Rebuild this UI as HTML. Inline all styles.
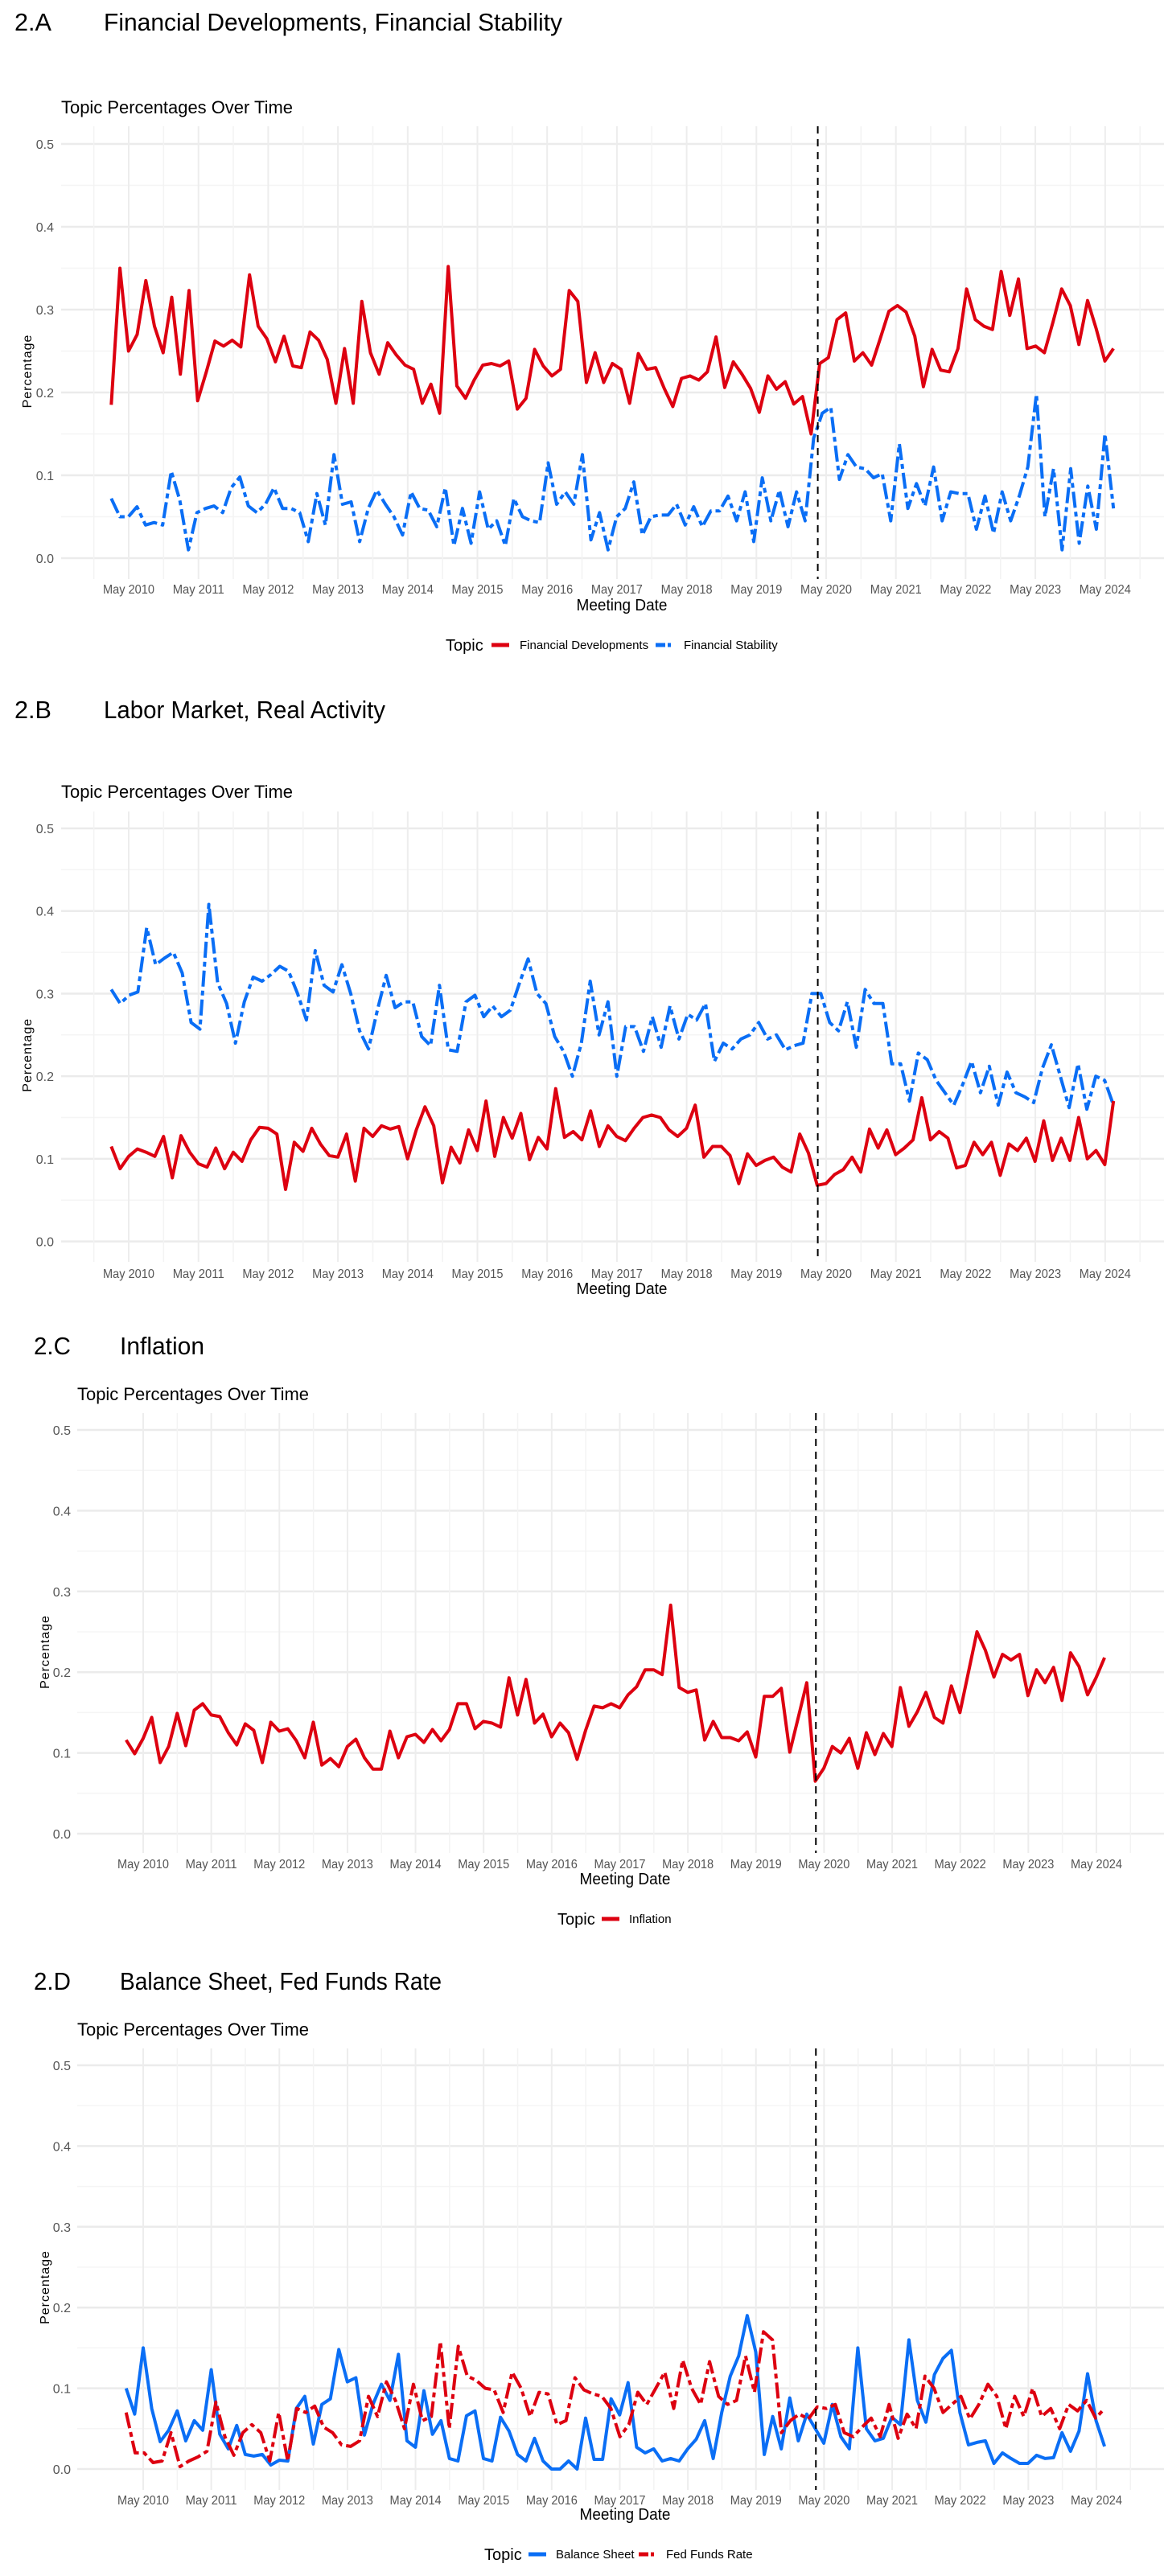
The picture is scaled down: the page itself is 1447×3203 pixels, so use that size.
<!DOCTYPE html>
<html><head><meta charset="utf-8">
<style>
html,body{margin:0;padding:0;background:#fff;}
svg{display:block;font-family:"Liberation Sans Narrow","Liberation Sans",sans-serif;}
</style></head>
<body>
<svg id="root" width="1447" height="3203" viewBox="0 0 1447 3203" xmlns="http://www.w3.org/2000/svg"></svg>
<script>
const yearLabels = ["May 2010","May 2011","May 2012","May 2013","May 2014","May 2015","May 2016","May 2017","May 2018","May 2019","May 2020","May 2021","May 2022","May 2023","May 2024"];
const yTicks = [0,0.1,0.2,0.3,0.4,0.5];
const eventYear = 9.88; // years after May 2010 (March 2020)

const finDev = [.185,.35,.25,.27,.335,.28,.248,.315,.222,.323,.19,.225,.262,.256,.263,.255,.342,.28,.265,.237,.268,.232,.23,.273,.263,.24,.187,.253,.187,.31,.248,.222,.26,.245,.233,.228,.187,.21,.175,.352,.208,.193,.215,.233,.235,.232,.238,.18,.193,.252,.232,.22,.228,.323,.31,.212,.248,.212,.235,.228,.187,.247,.228,.23,.205,.183,.217,.22,.215,.225,.267,.206,.237,.222,.205,.176,.22,.204,.213,.186,.195,.15,.235,.242,.288,.296,.238,.248,.233,.265,.298,.305,.297,.268,.207,.252,.227,.225,.253,.325,.288,.28,.276,.346,.293,.337,.253,.256,.248,.285,.325,.305,.258,.311,.277,.238,.253];
const finStab = [.072,.05,.05,.062,.04,.043,.04,.105,.07,.01,.055,.06,.063,.055,.085,.098,.063,.055,.065,.085,.06,.06,.055,.02,.078,.04,.125,.065,.068,.02,.06,.082,.065,.05,.028,.08,.06,.058,.038,.085,.015,.06,.018,.08,.035,.045,.015,.072,.05,.045,.043,.115,.065,.08,.065,.125,.022,.055,.01,.05,.06,.092,.028,.05,.052,.052,.065,.04,.062,.038,.057,.057,.075,.045,.08,.02,.097,.045,.082,.038,.08,.045,.145,.175,.182,.095,.125,.11,.108,.097,.102,.045,.138,.06,.09,.063,.11,.045,.08,.078,.078,.035,.075,.03,.08,.045,.075,.11,.198,.05,.108,.01,.108,.018,.087,.035,.15,.06];
const labor = [.305,.288,.298,.302,.38,.335,.343,.35,.325,.265,.257,.408,.313,.288,.24,.29,.32,.315,.323,.333,.327,.3,.268,.352,.31,.302,.335,.3,.255,.233,.28,.322,.283,.29,.29,.248,.237,.31,.232,.23,.29,.298,.272,.285,.272,.28,.312,.342,.3,.288,.248,.23,.2,.24,.315,.25,.29,.2,.26,.26,.23,.272,.235,.285,.245,.275,.268,.288,.218,.24,.233,.245,.25,.265,.245,.25,.232,.237,.24,.3,.3,.265,.255,.29,.235,.305,.288,.288,.215,.215,.17,.228,.22,.195,.18,.165,.19,.218,.18,.212,.165,.205,.18,.175,.168,.21,.238,.2,.162,.215,.16,.2,.195,.165];
const realAct = [.115,.088,.103,.112,.108,.103,.127,.077,.128,.108,.094,.09,.113,.088,.108,.097,.123,.138,.137,.13,.063,.12,.109,.137,.118,.104,.102,.13,.073,.137,.127,.14,.136,.139,.1,.135,.163,.14,.071,.114,.095,.135,.11,.17,.103,.15,.125,.155,.099,.126,.112,.185,.126,.133,.123,.158,.115,.14,.127,.122,.137,.15,.153,.15,.135,.127,.137,.165,.102,.115,.115,.104,.07,.106,.092,.098,.102,.09,.084,.13,.107,.068,.07,.081,.087,.102,.084,.136,.113,.135,.105,.113,.123,.174,.123,.133,.125,.089,.092,.12,.105,.12,.08,.118,.11,.125,.097,.146,.098,.125,.098,.15,.1,.11,.093,.17];
const inflation = [.116,.099,.118,.144,.088,.108,.149,.109,.153,.161,.147,.145,.125,.11,.136,.128,.088,.138,.127,.13,.115,.094,.138,.085,.093,.083,.108,.117,.094,.08,.08,.127,.094,.12,.123,.113,.129,.115,.129,.161,.161,.13,.139,.137,.132,.193,.147,.191,.137,.148,.12,.137,.125,.092,.128,.158,.156,.161,.156,.172,.182,.203,.203,.197,.283,.181,.175,.178,.116,.139,.119,.119,.115,.126,.095,.17,.17,.18,.101,.144,.187,.065,.081,.108,.1,.118,.081,.125,.098,.124,.108,.181,.133,.151,.175,.144,.137,.183,.15,.2,.25,.227,.194,.222,.215,.222,.171,.203,.187,.206,.165,.224,.207,.172,.193,.218];
const balSheet = [.1,.068,.15,.075,.034,.048,.072,.035,.06,.048,.123,.043,.025,.054,.018,.016,.018,.005,.011,.01,.075,.09,.031,.08,.087,.148,.108,.113,.042,.08,.105,.085,.142,.035,.027,.097,.043,.06,.013,.01,.066,.072,.013,.01,.064,.047,.018,.01,.038,.01,0,0,.01,0,.063,.012,.012,.087,.067,.107,.027,.02,.025,.01,.013,.01,.025,.037,.06,.013,.07,.115,.14,.19,.145,.018,.065,.025,.088,.035,.068,.05,.032,.08,.04,.025,.15,.05,.035,.038,.064,.055,.16,.085,.058,.117,.137,.147,.07,.03,.033,.035,.007,.02,.013,.007,.007,.017,.013,.014,.045,.022,.047,.118,.06,.028];
const fedFunds = [.07,.02,.02,.008,.01,.045,.003,.01,.015,.022,.083,.04,.017,.045,.055,.045,.01,.07,.01,.075,.07,.078,.052,.045,.03,.028,.035,.09,.065,.108,.085,.05,.105,.06,.065,.158,.05,.152,.115,.11,.1,.098,.07,.12,.1,.065,.095,.093,.055,.06,.113,.098,.093,.09,.075,.04,.055,.095,.08,.1,.12,.075,.135,.1,.08,.133,.09,.08,.085,.14,.095,.17,.16,.045,.06,.068,.062,.077,.075,.08,.045,.04,.052,.063,.04,.08,.038,.068,.05,.115,.1,.07,.08,.09,.062,.08,.105,.09,.05,.09,.065,.1,.065,.075,.05,.08,.072,.085,.063,.075];

const RED = "#dd0010", BLUE = "#0a6ef5";
const NS = "http://www.w3.org/2000/svg";
const root = document.getElementById('root');
function mk(tag, attrs, parent){
  const e = document.createElementNS(NS, tag);
  for (const k in attrs) e.setAttribute(k, attrs[k]);
  (parent||root).appendChild(e);
  return e;
}
function txt(parent, x, y, s, size, opts){
  const t = mk('text', Object.assign({x:x, y:y, 'font-size':size, fill:'#222'}, opts||{}), parent);
  t.textContent = s;
  return t;
}

function drawChart(c){
  const g = mk('g', {});
  
  
  const yS = v => c.y0 + (c.y5 - c.y0) * (v / 0.5);
  const xS = t => c.x2010 + t * c.pxYear;
  const tOf = (i, n) => -0.25 + i * 14.37 / (n - 1);

  const hd = txt(g, c.hx1, c.titleY, c.label, 31, {fill:'#000', textLength:46, lengthAdjust:'spacingAndGlyphs'});
  
  
  const ht = txt(g, c.hx2, c.titleY, c.title, 31, {fill:'#000', textLength:c.titleW, lengthAdjust:'spacingAndGlyphs'});
  
  
  const st = txt(g, c.subX, c.subY, 'Topic Percentages Over Time', 22, {fill:'#000', textLength:288, lengthAdjust:'spacingAndGlyphs'});
  
  

  for (let k = 0; k <= 10; k++) {
    const v = k * 0.05;
    const major = k % 2 === 0;
    mk('line', {x1:c.hLeft, x2:1447, y1:yS(v), y2:yS(v), stroke: major ? '#ebebeb' : '#f5f5f5', 'stroke-width': major ? 2.5 : 1.5}, g);
  }
  for (let yr = -1; yr <= 15; yr++) {
    const xm = xS(yr);
    if (yr >= 0 && yr < 15) mk('line', {x1:xm, x2:xm, y1:c.pTop, y2:c.pBot, stroke:'#ededed', 'stroke-width':2}, g);
    const xn = xS(yr + 0.5);
    if (xn >= c.gridL - 1 && xn <= c.gridR + 1) mk('line', {x1:xn, x2:xn, y1:c.pTop, y2:c.pBot, stroke:'#f3f3f3', 'stroke-width':1.5}, g);
  }
  yTicks.forEach(v => {
    const t = txt(g, c.yTickR, yS(v) + 6, v.toFixed(1), 16, {'text-anchor':'end', fill:'#555'});
    
    
  });
  yearLabels.forEach((s, i) => {
    const t = txt(g, xS(i), c.xLabY + 6, s, 16, {'text-anchor':'middle', fill:'#555', textLength:64, lengthAdjust:'spacingAndGlyphs'});
    
    
  });
  const xt = txt(g, (c.gridL + c.gridR) / 2 + 6, c.xTitleY + 7, 'Meeting Date', 20, {'text-anchor':'middle', fill:'#000', textLength:113, lengthAdjust:'spacingAndGlyphs'});
  
  
  const yy = (yS(0) + yS(0.5)) / 2 + 25;
  const yt = txt(g, 0, 0, 'Percentage', 16, {'text-anchor':'middle', fill:'#000', 'font-family':'"Liberation Sans",sans-serif', 'letter-spacing':'1', transform:'translate(' + (c.yTitleX + 6) + ',' + yy + ') rotate(-90)'});
  
  

  c.series.forEach(s => {
    const n = s.data.length;
    const pts = s.data.map((v, i) => xS(tOf(i, n)).toFixed(1) + ',' + yS(v).toFixed(1)).join(' ');
    const p = mk('polyline', {points: pts, fill:'none', stroke:s.color, 'stroke-width':4, 'stroke-linejoin':'round', 'stroke-linecap':'butt'}, g);
    if (s.dash) p.setAttribute('stroke-dasharray', '20,5,6,5');
    
    
  });

  const vx = xS(eventYear);
  const vl = mk('line', {x1:vx, x2:vx, y1:c.pTop, y2:c.pBot, stroke:'#000', 'stroke-width':2, 'stroke-dasharray':'9,7'}, g);
  
  

  if (c.legend) {
    const lg = mk('g', {}, g);
    
    
    txt(lg, c.legend.topicX, c.legendY + 7, 'Topic', 20, {fill:'#000'});
    c.legend.items.forEach(it => {
      const sw = mk('line', {x1:it.sx, x2:it.sx + 22, y1:c.legendY, y2:c.legendY, stroke:it.color, 'stroke-width':5}, lg);
      if (it.dash) sw.setAttribute('stroke-dasharray', '12,3,4,3');
      
      
      const t = txt(lg, it.tx, c.legendY + 5, it.label, 15, {fill:'#000'});
      
      
    });
  }
}

const abX = {x2010:160, pxYear:86.7, gridL:117, gridR:1417, hLeft:76, yTickR:67, yTitleX:33, hx1:18, hx2:129, subX:76};
const cdX = {x2010:178, pxYear:84.64, gridL:137, gridR:1405, hLeft:96, yTickR:88, yTitleX:55, hx1:42, hx2:149, subX:96};

drawChart(Object.assign({}, abX, {name:'chart-2a', label:'2.A', title:'Financial Developments, Financial Stability', titleW:570,
  titleY:38, subY:141, y5:179, y0:694, pTop:157, pBot:720, xLabY:732, xTitleY:752, legendY:802,
  series:[{key:'financial-developments', data:finDev, color:RED},{key:'financial-stability', data:finStab, color:BLUE, dash:true}],
  legend:{topicX:554, items:[{sx:611, tx:646, color:RED, label:'Financial Developments'},{sx:815, tx:850, color:BLUE, dash:true, label:'Financial Stability'}]}}));

drawChart(Object.assign({}, abX, {name:'chart-2b', label:'2.B', title:'Labor Market, Real Activity', titleW:350,
  titleY:893, subY:992, y5:1030, y0:1543.6, pTop:1009, pBot:1569, xLabY:1583, xTitleY:1602,
  series:[{key:'labor-market', data:labor, color:BLUE, dash:true},{key:'real-activity', data:realAct, color:RED}]}));

drawChart(Object.assign({}, cdX, {name:'chart-2c', label:'2.C', title:'Inflation', titleW:105,
  titleY:1684, subY:1741, y5:1778, y0:2280, pTop:1757, pBot:2304, xLabY:2317, xTitleY:2336, legendY:2386,
  series:[{key:'inflation', data:inflation, color:RED}],
  legend:{topicX:693, items:[{sx:748, tx:782, color:RED, label:'Inflation'}]}}));

drawChart(Object.assign({}, cdX, {name:'chart-2d', label:'2.D', title:'Balance Sheet, Fed Funds Rate', titleW:400,
  titleY:2474, subY:2531, y5:2568, y0:3070, pTop:2547, pBot:3096, xLabY:3108, xTitleY:3126, legendY:3176,
  series:[{key:'balance-sheet', data:balSheet, color:BLUE},{key:'fed-funds-rate', data:fedFunds, color:RED, dash:true}],
  legend:{topicX:602, items:[{sx:657, tx:691, color:BLUE, label:'Balance Sheet'},{sx:794, tx:828, color:RED, dash:true, label:'Fed Funds Rate'}]}}));
</script>
</body></html>
